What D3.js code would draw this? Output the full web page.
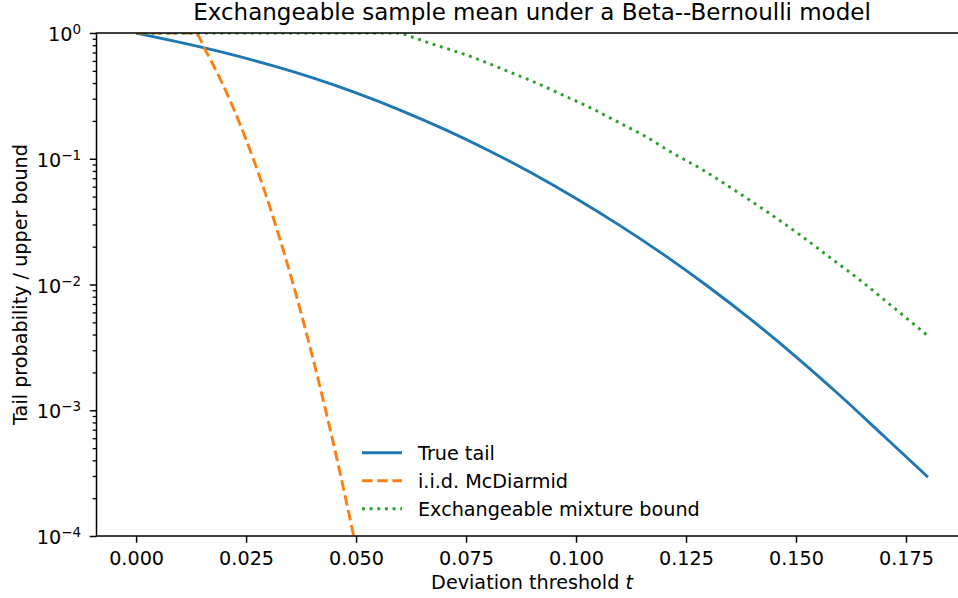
<!DOCTYPE html>
<html>
<head>
<meta charset="utf-8">
<script src="https://cdn.jsdelivr.net/npm/d3@7"></script>
<style>
  body { margin: 0; background: #fff; }
  svg { display: block; font-family: "DejaVu Sans", sans-serif; }
</style>
</head>
<body>
<div id="chart"></div>
<script>
// values
var tTrue = [0, 0.01, 0.02, 0.03, 0.04, 0.05, 0.06, 0.07, 0.08, 0.09, 0.10, 0.11, 0.12, 0.13, 0.14, 0.15, 0.16, 0.17, 0.18];
var trueTail = [1.0, 0.841, 0.697, 0.562, 0.441, 0.334, 0.244, 0.172, 0.117, 0.0766, 0.0483, 0.0294, 0.0172, 0.00964, 0.00518, 0.00266, 0.00131, 0.000621, 0.000294];

var tIid = [0, 0.006, 0.0134, 0.016, 0.019, 0.022, 0.025, 0.028, 0.031, 0.034, 0.037, 0.040, 0.043, 0.046, 0.049, 0.052];
var iidBound = [1, 1, 1, 0.702, 0.440, 0.258, 0.142, 0.0735, 0.0356, 0.0162, 0.00689, 0.00275, 0.00103, 0.000362, 0.000119, 0.0000368];

var tMix = [0, 0.03, 0.0595, 0.0629, 0.0678, 0.0728, 0.0777, 0.0842, 0.0906, 0.097, 0.1033, 0.1094, 0.1157, 0.1214, 0.1292, 0.1364, 0.1436, 0.1509, 0.1577, 0.1646, 0.1714, 0.18];
var mixBound = [1, 1, 1, 0.925, 0.807, 0.711, 0.618, 0.501, 0.406, 0.321, 0.254, 0.197, 0.151, 0.114, 0.080, 0.0551, 0.0375, 0.0248, 0.0164, 0.0108, 0.0069, 0.0039];

var xTicks = [0, 0.025, 0.05, 0.075, 0.1, 0.125, 0.15, 0.175];
var yMajor = [0, -1, -2, -3, -4]; // exponents

var series = [
    {name: "True tail", t: tTrue, v: trueTail, color: "#1f77b4", dash: null},
    {name: "i.i.d. McDiarmid", t: tIid, v: iidBound, color: "#ff7f0e", dash: "10.6,4.6"},
    {name: "Exchangeable mixture bound", t: tMix, v: mixBound, color: "#2ca02c", dash: "2.9,4.75"}
];

function draw() {
    var W = 958, H = 598,
        x0 = 96.5, x1 = 967.6, y0 = 33, y1 = 536,
        fs = 19.2;

    var svg = d3.select("#chart").append("svg")
        .attr("width", W)
        .attr("height", H);

    var x = d3.scaleLinear()
        .domain([-0.009, 0.189])
        .range([x0, x1]);

    var y = d3.scaleLog()
        .domain([1e-4, 1])
        .range([y1, y0]);

    svg.append("clipPath").attr("id", "clip")
        .append("rect")
        .attr("x", x0).attr("y", y0)
        .attr("width", x1 - x0).attr("height", y1 - y0);

    // lines
    var line = d3.line()
        .x(function (d) { return x(d[0]); })
        .y(function (d) { return y(d[1]); })
        .curve(d3.curveMonotoneX);

    series.forEach(function (s) {
        var pts = s.t.map(function (t, i) { return [t, s.v[i]]; });
        svg.append("path")
            .attr("clip-path", "url(#clip)")
            .attr("d", line(pts))
            .attr("fill", "none")
            .attr("stroke", s.color)
            .attr("stroke-width", 2.9)
            .attr("stroke-linejoin", "round")
            .attr("stroke-dasharray", s.dash);
    });

    // x axis
    var xAxis = svg.append("g")
        .attr("transform", "translate(0," + y1 + ")")
        .call(d3.axisBottom(x).tickValues(xTicks).tickFormat(d3.format(".3f")).tickSize(6.7).tickPadding(8.2));
    xAxis.select(".domain").remove();
    xAxis.selectAll(".tick line").attr("stroke", "#000").attr("stroke-width", 1.5);
    xAxis.selectAll("text").attr("font-size", fs).attr("font-family", "DejaVu Sans").attr("fill", "#000");

    // y axis: minor ticks
    var minors = [];
    for (var e = -4; e < 0; e++) {
        for (var m = 2; m < 10; m++) minors.push(m * Math.pow(10, e));
    }
    var yMinor = svg.append("g")
        .attr("transform", "translate(" + x0 + ",0)")
        .call(d3.axisLeft(y).tickValues(minors).tickFormat("").tickSize(3.8));
    yMinor.select(".domain").remove();
    yMinor.selectAll(".tick line").attr("stroke", "#000").attr("stroke-width", 1.3);

    var yAxis = svg.append("g")
        .attr("transform", "translate(" + x0 + ",0)")
        .call(d3.axisLeft(y).tickValues(yMajor.map(function (k) { return Math.pow(10, k); })).tickFormat("").tickSize(6.7));
    yAxis.select(".domain").remove();
    yAxis.selectAll(".tick line").attr("stroke", "#000").attr("stroke-width", 1.5);

    yMajor.forEach(function (k) {
        var txt = svg.append("text")
            .attr("x", 81)
            .attr("y", y(Math.pow(10, k)) + 8.2)
            .attr("text-anchor", "end")
            .attr("font-size", fs);
        txt.append("tspan").text("10");
        txt.append("tspan")
            .attr("font-size", fs * 0.7)
            .attr("dy", -7.2)
            .text(k === 0 ? "0" : "\u2212" + (-k));
    });

    // spines (left, bottom, top; right falls outside the picture)
    svg.append("rect")
        .attr("x", x0).attr("y", y0)
        .attr("width", x1 - x0).attr("height", y1 - y0)
        .attr("fill", "none")
        .attr("stroke", "#000")
        .attr("stroke-width", 1.5);

    // title and labels
    svg.append("text")
        .attr("x", (x0 + x1) / 2)
        .attr("y", 20)
        .attr("text-anchor", "middle")
        .attr("font-size", 23)
        .text("Exchangeable sample mean under a Beta--Bernoulli model");

    var xl = svg.append("text")
        .attr("x", (x0 + x1) / 2)
        .attr("y", 589)
        .attr("text-anchor", "middle")
        .attr("font-size", fs);
    xl.append("tspan").text("Deviation threshold ");
    xl.append("tspan").attr("font-style", "italic").text("t");

    svg.append("text")
        .attr("transform", "translate(26.5," + (y0 + y1) / 2 + ") rotate(-90)")
        .attr("text-anchor", "middle")
        .attr("font-size", fs)
        .text("Tail probability / upper bound");

    // legend
    var legend = svg.append("g").attr("transform", "translate(362,452.7)");
    series.forEach(function (s, i) {
        var row = legend.append("g").attr("transform", "translate(0," + i * 28 + ")");
        row.append("line")
            .attr("x1", 0).attr("x2", 40)
            .attr("stroke", s.color)
            .attr("stroke-width", 2.9)
            .attr("stroke-dasharray", s.dash);
        row.append("text")
            .attr("x", 56)
            .attr("y", 7)
            .attr("font-size", fs)
            .text(s.name);
    });
}

draw();
</script>
</body>
</html>
